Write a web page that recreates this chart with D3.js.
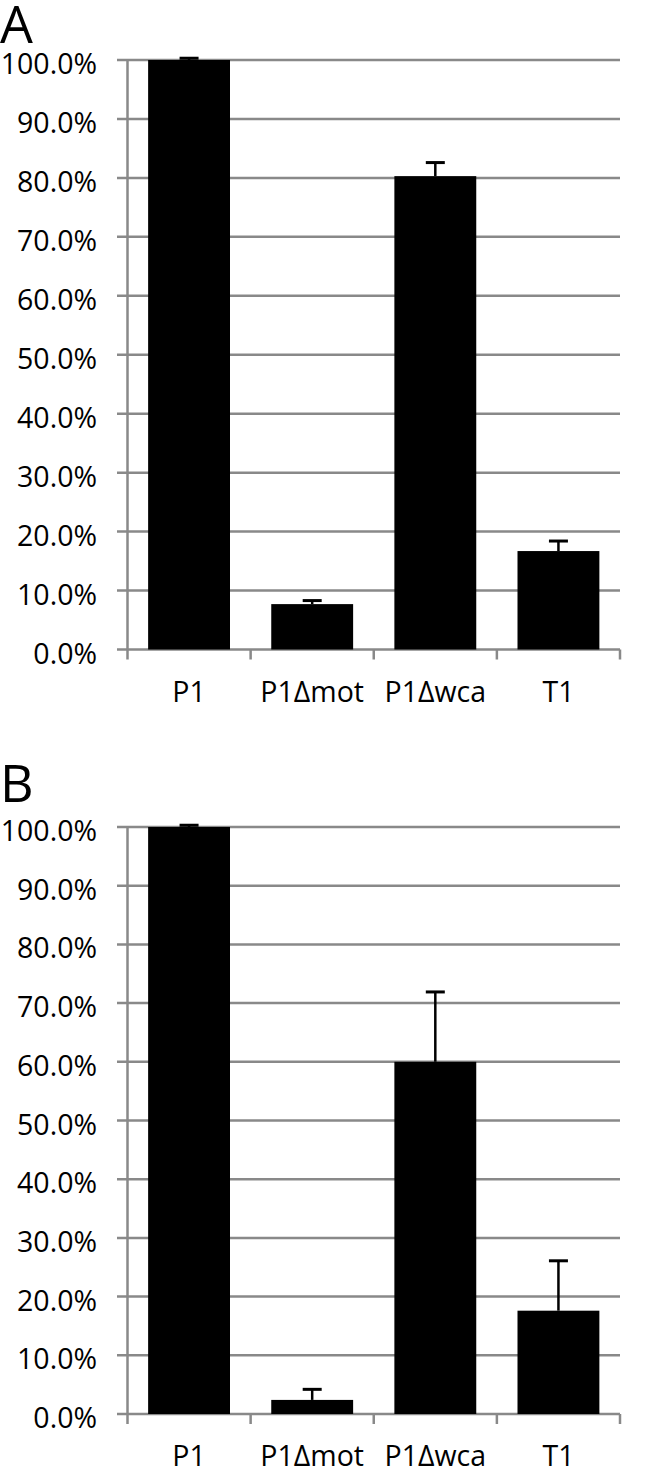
<!DOCTYPE html>
<html>
<meta charset="utf-8">
<head>
<script src="https://d3js.org/d3.v7.min.js"></script>
<style>
    body { margin: 0; background: #fff; }
    text { font-family: "Open Sans", sans-serif; fill: #000; }
</style>
</head>
<body>
<script>
// data
var categories = ["P1", "P1\u0394mot", "P1\u0394wca", "T1"];
var valuesA = [100.0, 7.7, 80.3, 16.7];
var errorsA = [0.3, 0.6, 2.3, 1.7];
var valuesB = [100.0, 2.4, 60.0, 17.6];
var errorsB = [0.3, 1.8, 11.9, 8.5];
var yTicks = [0, 10, 20, 30, 40, 50, 60, 70, 80, 90, 100];

var width = 650, height = 1470;
var grid = "#898989";

var svg = d3.select("body").append("svg")
    .attr("width", width)
    .attr("height", height);

var x = d3.scaleBand()
    .domain(categories)
    .range([127.5, 620])
    .paddingInner(0.335)
    .paddingOuter(0.1675);

function drawPanel(letter, values, errors, top, bottom, letterY) {
    var y = d3.scaleLinear().domain([0, 100]).range([bottom, top]);
    var g = svg.append("g");

    // panel letter
    g.append("text")
        .attr("x", 0)
        .attr("y", letterY)
        .style("font-size", "52px")
        .text(letter);

    // gridlines + tick labels
    g.selectAll(".grid").data(yTicks).enter().append("line")
        .attr("x1", 117).attr("x2", 620)
        .attr("y1", function(d) { return y(d); })
        .attr("y2", function(d) { return y(d); })
        .attr("stroke", grid)
        .attr("stroke-width", 2.5);

    g.selectAll(".ylab").data(yTicks).enter().append("text")
        .attr("x", 97)
        .attr("y", function(d) { return y(d) + 14; })
        .attr("text-anchor", "end")
        .style("font-size", "28.5px")
        .text(function(d) { return d3.format(".1f")(d) + "%"; });

    // y axis line
    g.append("line")
        .attr("x1", 127.5).attr("x2", 127.5)
        .attr("y1", y(100)).attr("y2", y(0))
        .attr("stroke", grid).attr("stroke-width", 2.5);

    // x tick marks at category boundaries
    var step = x.step();
    var bounds = categories.map(function(c) { return x(c) - step * x.paddingInner() / 2; });
    bounds.push(620);
    g.selectAll(".xtick").data(bounds).enter().append("line")
        .attr("x1", function(d) { return d; })
        .attr("x2", function(d) { return d; })
        .attr("y1", y(0)).attr("y2", y(0) + 10)
        .attr("stroke", grid).attr("stroke-width", 2.5);

    // error bars, drawn first so the stem sits behind the bar
    var eb = g.selectAll(".err").data(categories).enter().append("g");
    eb.append("line")
        .attr("x1", function(d) { return x(d) + x.bandwidth() / 2; })
        .attr("x2", function(d) { return x(d) + x.bandwidth() / 2; })
        .attr("y1", function(d, i) { return y(values[i]); })
        .attr("y2", function(d, i) { return y(values[i] + errors[i]); })
        .attr("stroke", "#000").attr("stroke-width", 2.5);
    eb.append("line")
        .attr("x1", function(d) { return x(d) + x.bandwidth() / 2 - 9.5; })
        .attr("x2", function(d) { return x(d) + x.bandwidth() / 2 + 9.5; })
        .attr("y1", function(d, i) { return y(values[i] + errors[i]); })
        .attr("y2", function(d, i) { return y(values[i] + errors[i]); })
        .attr("stroke", "#000").attr("stroke-width", 3);

    // bars
    g.selectAll(".bar").data(categories).enter().append("rect")
        .attr("x", function(d) { return x(d); })
        .attr("width", x.bandwidth())
        .attr("y", function(d, i) { return y(values[i]); })
        .attr("height", function(d, i) { return y(0) - y(values[i]); })
        .attr("fill", "#000");

    // category labels
    g.selectAll(".xlab").data(categories).enter().append("text")
        .attr("x", function(d) { return x(d) + x.bandwidth() / 2; })
        .attr("y", y(0) + 52)
        .attr("text-anchor", "middle")
        .style("font-size", "28.5px")
        .text(function(d) { return d; });
}

drawPanel("A", valuesA, errorsA, 60, 649.5, 43);
drawPanel("B", valuesB, errorsB, 827, 1414, 802);
</script>
</body>
</html>
